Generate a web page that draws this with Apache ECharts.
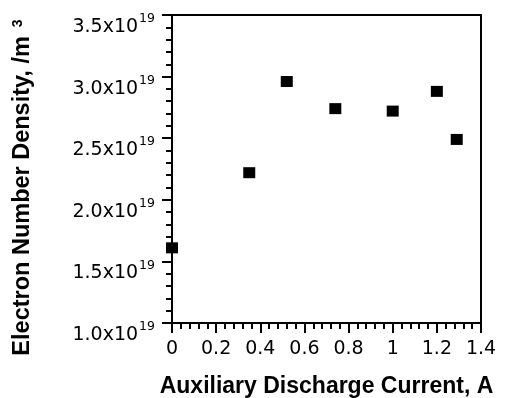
<!DOCTYPE html>
<html>
<head>
<meta charset="utf-8">
<script src="https://cdn.jsdelivr.net/npm/echarts@6/dist/echarts.min.js"></script>
<style>
  html, body { margin: 0; padding: 0; background: #fff; }
  #chart { width: 508px; height: 398px; }
</style>
</head>
<body>
<div id="chart"></div>
<script>
// discharge current (A) and electron density (/m^3)
const currents = [0.0, 0.35, 0.52, 0.74, 1.0, 1.2, 1.29]
const densities = [1.61e19, 2.22e19, 2.96e19, 2.74e19, 2.72e19, 2.88e19, 2.49e19]

const xTicks = { min: 0, max: 1.4, interval: 0.2 }
const yTicks = { min: 1.0e19, max: 3.5e19, interval: 0.5e19 }

const font = 'DejaVu Sans'
const titleFont = 'Liberation Sans'
const chart = echarts.init(document.getElementById('chart'))

chart.setOption({
  animation: false,
  grid: {
    left: 172, right: 27, top: 15, bottom: 75,
    outerBoundsMode: 'none',
    show: true,
    borderColor: '#000',
    borderWidth: 2
  },
  xAxis: {
    type: 'value',
    min: xTicks.min,
    max: xTicks.max,
    interval: xTicks.interval,
    name: 'Auxiliary Discharge Current, A',
    nameLocation: 'middle',
    nameGap: 52,
    nameTextStyle: { fontFamily: titleFont, fontWeight: 'bold', fontSize: 23, color: '#000' },
    axisLine: { onZero: false, lineStyle: { color: '#000', width: 2 } },
    axisTick: { length: 10, lineStyle: { color: '#000', width: 2 } },
    minorTick: { show: true, splitNumber: 5, length: 6, lineStyle: { color: '#000', width: 2 } },
    splitLine: { show: false },
    axisLabel: {
      margin: 17,
      fontFamily: font,
      fontSize: 19,
      color: '#000',
      formatter: v => String(Math.round(v * 10) / 10)
    }
  },
  yAxis: {
    type: 'value',
    min: yTicks.min,
    max: yTicks.max,
    interval: yTicks.interval,
    name: 'Electron Number Density, /m{s|3}',
    nameLocation: 'middle',
    nameRotate: 90,
    nameGap: 137,
    nameTextStyle: {
      fontFamily: titleFont, fontWeight: 'bold', fontSize: 23.5, color: '#000',
      padding: [0, 37, 0, 0],
      rich: {
        s: { fontFamily: titleFont, fontWeight: 'bold', fontSize: 14, color: '#000', verticalAlign: 'top', padding: [0, 0, 0, 9] }
      }
    },
    axisLine: { lineStyle: { color: '#000', width: 2 } },
    axisTick: { length: 10, lineStyle: { color: '#000', width: 2 } },
    minorTick: { show: true, splitNumber: 5, length: 6, lineStyle: { color: '#000', width: 2 } },
    splitLine: { show: false },
    axisLabel: {
      margin: 17,
      padding: [15, 0, 0, 0],
      formatter: v => '{n|' + (v / 1e19).toFixed(1) + 'x10}{s|19}',
      rich: {
        n: { fontFamily: font, fontSize: 19, color: '#000', lineHeight: 28, verticalAlign: 'bottom' },
        s: { fontFamily: font, fontSize: 12.5, color: '#000', verticalAlign: 'top', padding: [4, 0, 0, 1] }
      }
    }
  },
  series: [{
    type: 'scatter',
    symbol: 'rect',
    symbolSize: [12, 11],
    itemStyle: { color: '#000', opacity: 1 },
    data: currents.map((c, i) => [c, densities[i]])
  }]
})
</script>
</body>
</html>
